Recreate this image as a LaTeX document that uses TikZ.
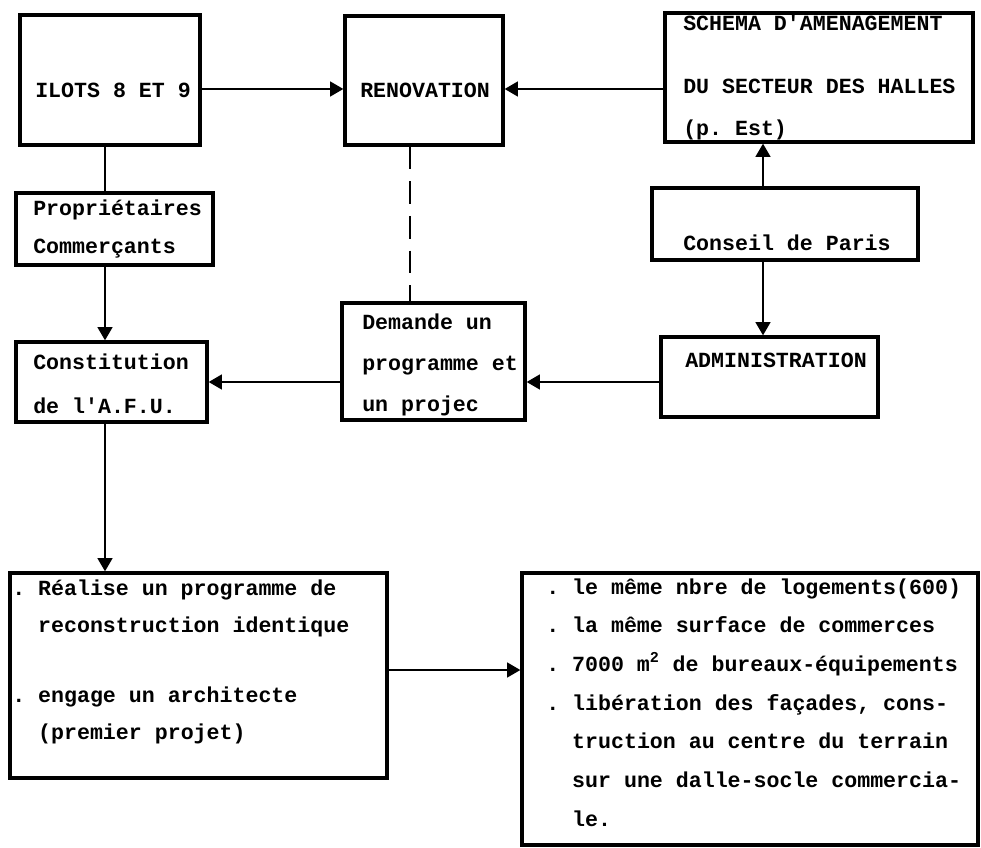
\documentclass[tikz,border=0pt]{standalone}
\usepackage{fontspec}
\setmonofont{Liberation Mono}
\usetikzlibrary{arrows.meta}
\newcommand\typo[1]{\fontsize{16.2pt}{#1}\selectfont\ttfamily\bfseries}

\begin{document}
\begin{tikzpicture}[x=0.75pt, y=-0.75pt,
  box/.style={draw, line width=2.4pt, inner sep=0pt},
  txt/.style={anchor=base west, align=left, inner sep=0pt, font=\typo{#1}},
  txt/.default=28pt,
  link/.style={line width=2pt},
  arr/.style={link, -{Triangle[length=10pt,width=11pt]}}]

\useasboundingbox (0,0) rectangle (981,848);

\node [box, minimum width=135pt, minimum height=97.5pt] (ilots) at (110,80) {};
\node [box, minimum width=118.5pt, minimum height=96.75pt] (renov) at (424,80.5) {};
\node [box, minimum width=231pt, minimum height=96.75pt] (schema) at (819,77.5) {};
\node [box, minimum width=147.75pt, minimum height=54pt] (prop) at (114.5,229) {};
\node [box, minimum width=199.5pt, minimum height=54pt] (conseil) at (785,224) {};
\node [box, minimum width=137.25pt, minimum height=87.75pt] (dem) at (433.5,361.5) {};
\node [box, minimum width=162.75pt, minimum height=60pt] (admin) at (769.5,377) {};
\node [box, minimum width=143.25pt, minimum height=60pt] (const) at (111.5,382) {};
\node [box, minimum width=282.75pt, minimum height=153.75pt] (real) at (198.5,675.5) {};
\node [box, minimum width=342pt, minimum height=204pt] (res) at (750,709) {};

% texts: base = last line
\node [txt] (t-ilots) at (35,98) {ILOTS 8 ET 9};
\node [txt] (t-renov) at (360,98) {RENOVATION};
\node [txt=31.5pt] (t-schema) at (683,136) {SCHEMA D'AMENAGEMENT\\[15.75pt]DU SECTEUR DES HALLES\\(p. Est)};
\node [txt=28.5pt] (t-prop) at (33,254) {Propriétaires\\Commerçants};
\node [txt] (t-conseil) at (683,251) {Conseil de Paris};
\node [txt=30.75pt] (t-dem) at (362,411) {Demande un\\programme et\\un projec};
\node [txt] (t-admin) at (685,368) {ADMINISTRATION};
\node [txt=33pt] (t-const) at (33,413) {Constitution\\de l'A.F.U.};
\node [txt=27.5pt] (t-real) at (12,739) {. Réalise un programme de\\\hphantom{. }reconstruction identique\\[25pt]. engage un architecte\\\hphantom{. }(premier projet)};
\node [txt=29pt] (t-res) at (546,826) {. le même nbre de logements(600)\\. la même surface de commerces\\. 7000 m\textsuperscript{2} de bureaux-équipements\\. libération des façades, cons-\\\hphantom{. }truction au centre du terrain\\\hphantom{. }sur une dalle-socle commercia-\\\hphantom{. }le.};

\coordinate (colA) at (105,0);
\coordinate (colB) at (410,0);
\coordinate (colC) at (763,0);
\coordinate (rowT) at (0,89);
\coordinate (rowM) at (0,382);
\coordinate (rowB) at (0,670);

\draw [arr] (ilots.east |- rowT) -- (renov.west |- rowT);
\draw [arr] (schema.west |- rowT) -- (renov.east |- rowT);
\draw [link] (ilots.south -| colA) -- (prop.north -| colA);
\draw [arr] (prop.south -| colA) -- (const.north -| colA);
\draw [arr] (const.south -| colA) -- (real.north -| colA);
\draw [link, dash pattern=on 17pt off 9pt] (renov.south -| colB) -- (dem.north -| colB);
\draw [arr] (conseil.north -| colC) -- (schema.south -| colC);
\draw [arr] (conseil.south -| colC) -- (admin.north -| colC);
\draw [arr] (admin.west |- rowM) -- (dem.east |- rowM);
\draw [arr] (dem.west |- rowM) -- (const.east |- rowM);
\draw [arr] (real.east |- rowB) -- (res.west |- rowB);
\end{tikzpicture}
\end{document}
